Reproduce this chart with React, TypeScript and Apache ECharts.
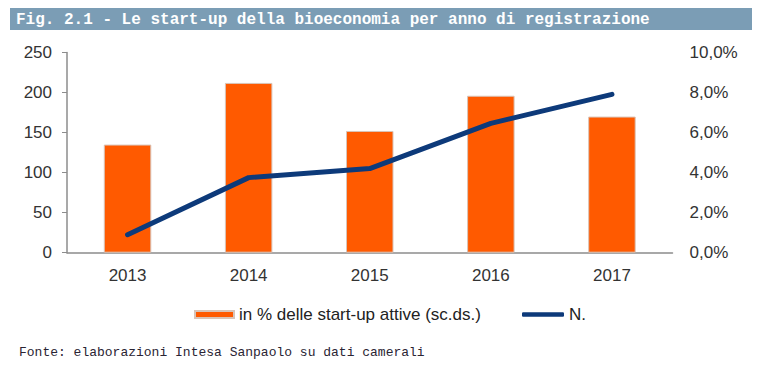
import React, { useEffect, useRef } from "react";
import * as echarts from "echarts";

const years = ["2013", "2014", "2015", "2016", "2017"];
const barValues = [135, 212, 152, 196, 170];
const lineValues = [0.9, 3.75, 4.2, 6.46, 7.91];
const barName = "in % delle start-up attive (sc.ds.)";
const lineName = "N.";
const titleText = "Fig. 2.1 - Le start-up della bioeconomia per anno di registrazione";
const sourceText = "Fonte: elaborazioni Intesa Sanpaolo su dati camerali";

export default function App() {
  const ref = useRef<HTMLDivElement>(null);
  useEffect(() => {
    if (!ref.current) return;
    const chart = echarts.init(ref.current, undefined, { renderer: "svg" });
    const font = "'Liberation Sans', Arial, sans-serif";
    const legendText = { fontFamily: font, fontSize: 17, color: "#222" };
    chart.setOption({
      animation: false,
      backgroundColor: "#ffffff",
      grid: { left: 67, right: 90.5, top: 52.5, bottom: 114.3, containLabel: false },
      legend: [
        {
          left: 189,
          top: 301,
          itemWidth: 39,
          itemHeight: 7,
          textStyle: legendText,
          data: [{ name: barName, icon: "rect" }],
        },
        {
          left: 517,
          top: 301,
          itemWidth: 42,
          itemHeight: 4.5,
          textStyle: legendText,
          data: [{ name: lineName, icon: "roundRect" }],
        },
      ],
      xAxis: {
        type: "category",
        data: years,
        axisLine: { show: true, lineStyle: { color: "#8c8c8c", width: 1.5 } },
        axisTick: { show: false },
        axisLabel: { fontFamily: font, fontSize: 17, color: "#333", margin: 14 },
      },
      yAxis: [
        {
          type: "value",
          min: 0,
          max: 250,
          interval: 50,
          splitLine: { show: false },
          axisLine: { show: true, lineStyle: { color: "#8c8c8c", width: 1.5 } },
          axisTick: { show: true, length: 5, lineStyle: { color: "#8c8c8c" } },
          axisLabel: { fontFamily: font, fontSize: 17, color: "#333", margin: 15 },
        },
        {
          type: "value",
          min: 0,
          max: 10,
          interval: 2,
          splitLine: { show: false },
          axisLine: { show: false },
          axisTick: { show: false },
          axisLabel: {
            fontFamily: font,
            fontSize: 17,
            color: "#333",
            margin: 17,
            formatter: (v: number) => v.toFixed(1).replace(".", ",") + "%",
          },
        },
      ],
      series: [
        {
          name: barName,
          type: "bar",
          yAxisIndex: 0,
          data: barValues,
          barWidth: 47.5,
          itemStyle: { color: "#ff5a00", borderColor: "#d9c4b8", borderWidth: 1 },
        },
        {
          name: lineName,
          type: "line",
          yAxisIndex: 1,
          data: lineValues,
          symbol: "none",
          lineStyle: { color: "#0d3a7a", width: 5, cap: "round", join: "round" },
          itemStyle: { color: "#0d3a7a" },
        },
      ],
      graphic: [
        {
          type: "rect",
          shape: { x: 10, y: 8, width: 742, height: 22 },
          style: { fill: "#7b9db5" },
          silent: true,
        },
        {
          type: "text",
          x: 16,
          y: 19.5,
          style: {
            text: titleText,
            fill: "#ffffff",
            font: "bold 16px 'Liberation Mono', 'Courier New', monospace",
            verticalAlign: "middle",
          },
        },
        {
          type: "text",
          x: 19,
          y: 352,
          style: {
            text: sourceText,
            fill: "#2a2433",
            font: "13px 'Liberation Mono', 'Courier New', monospace",
            verticalAlign: "middle",
          },
        },
      ],
    });
    return () => chart.dispose();
  }, []);
  return (
    <div
      ref={ref}
      style={{ position: "fixed", left: 0, top: 0, width: 763, height: 367 }}
    />
  );
}
